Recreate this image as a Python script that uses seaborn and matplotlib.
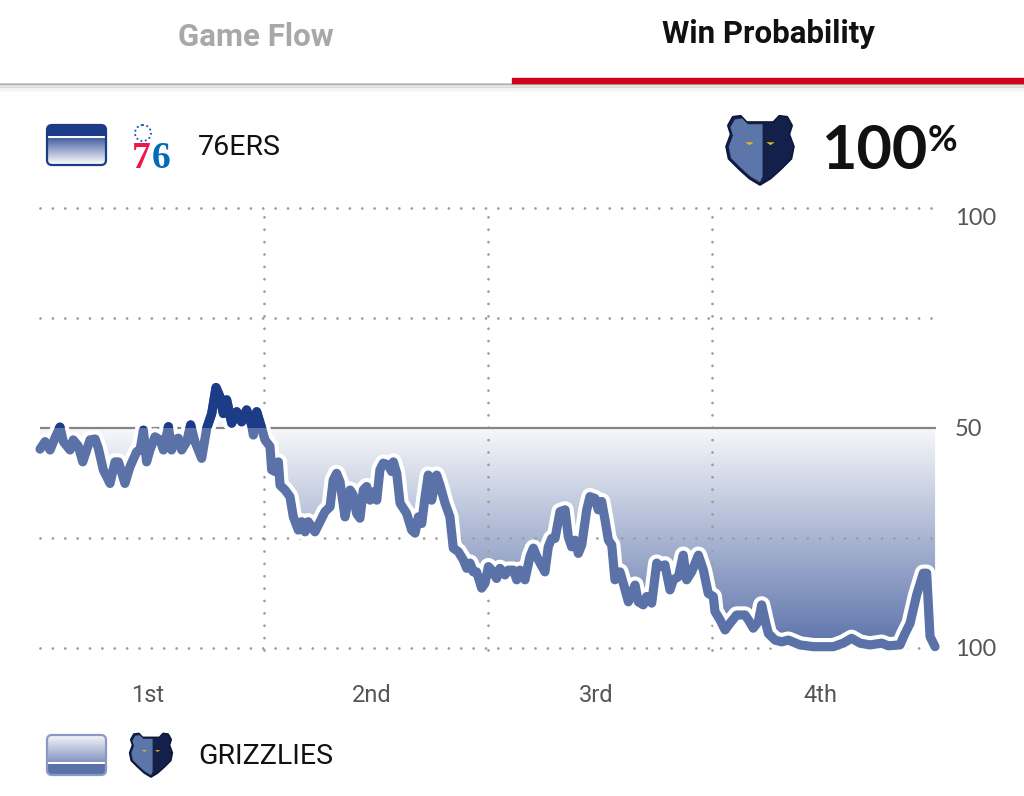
import numpy as np
import pandas as pd
import matplotlib
matplotlib.use("Agg")
import matplotlib.pyplot as plt
import matplotlib.transforms as mtransforms
import seaborn as sns
from matplotlib.patches import Rectangle, FancyBboxPatch, Polygon, Circle
from matplotlib.colors import LinearSegmentedColormap, to_rgb

# game clock (minutes elapsed) and 76ers win probability (%)
minutes = [0, 0.27, 0.54, 0.8, 1.07, 1.25, 1.61, 1.78, 2.05, 2.29, 2.5, 2.68, 2.95, 3.12,
           3.39, 3.75, 4.02, 4.2, 4.55, 4.82, 5.18, 5.36, 5.54, 5.71, 5.89, 6.16, 6.43,
           6.61, 6.88, 7.05, 7.23, 7.41, 7.59, 7.86, 8.07, 8.3, 8.66, 8.93, 9.2, 9.43,
           9.64, 9.82, 10.0, 10.27, 10.54, 10.8, 11.07, 11.34, 11.43, 11.61, 11.88,
           12.05, 12.32, 12.41, 12.59, 12.77, 12.86, 13.13, 13.39, 13.57, 13.84, 14.02,
           14.2, 14.37, 14.55, 14.73, 15.0, 15.27, 15.54, 15.71, 15.89, 16.07, 16.34,
           16.61, 16.78, 16.96, 17.14, 17.32, 17.5, 17.68, 17.86, 18.04, 18.21, 18.39,
           18.66, 18.84, 18.93, 19.11, 19.29, 19.64, 19.91, 20.09, 20.27, 20.45, 20.63,
           20.8, 20.98, 21.25, 21.43, 21.7, 21.96, 22.14, 22.41, 22.68, 22.86, 23.04,
           23.21, 23.39, 23.66, 23.84, 24.02,
           24.2, 24.46, 24.64, 24.91, 25.09, 25.36, 25.54, 25.71, 25.98, 26.25, 26.43,
           26.61, 26.79, 27.05, 27.23, 27.41, 27.59, 27.86, 28.13, 28.3, 28.48, 28.66,
           28.84, 29.02, 29.29, 29.46, 29.73, 29.91, 30.09, 30.27, 30.45, 30.63, 30.8,
           31.07, 31.25, 31.52, 31.7, 31.88, 32.05, 32.32, 32.5, 32.77, 33.04, 33.21,
           33.48, 33.75, 33.93, 34.2, 34.46, 34.64, 34.91, 35.27, 35.54, 35.8, 36.07,
           36.16, 36.43, 36.7, 36.96, 37.32, 37.77, 37.95, 38.21, 38.48, 38.66, 38.84,
           39.02, 39.38, 39.73, 40.09, 40.71, 41.43, 42.5, 43.03, 43.48, 43.93, 44.46,
           45.09, 45.45, 46.07, 46.34, 46.61, 46.96, 47.32, 47.5, 47.68, 47.95]
prob_76ers = [45.2, 46.9, 45.0, 47.7, 50.2, 46.9, 45.0, 47.3, 45.9, 42.3, 45.0, 47.3, 47.5, 45.5,
              40.5, 37.4, 42.3, 42.3, 37.4, 41.2, 44.6, 45.0, 49.5, 42.3, 45.0, 48.0, 47.3,
              45.0, 50.3, 45.0, 47.3, 47.7, 45.0, 46.9, 50.7, 46.9, 43.1, 49.9, 53.3, 59.2,
              57.1, 53.3, 56.4, 51.1, 53.7, 51.4, 54.1, 50.7, 48.4, 53.7, 49.9,
              47.3, 45.8, 40.5, 40.1, 42.3, 37.0, 35.9, 34.4, 29.8, 26.8, 28.7,
              26.4, 28.7, 27.6, 26.4, 28.7, 31.0, 32.1, 38.2, 39.7, 37.8, 29.8,
              35.9, 34.8, 30.6, 29.5, 35.9, 36.7, 33.6, 35.5, 33.6, 40.5, 42.0,
              41.6, 40.1, 42.3, 39.7, 32.9, 30.6, 26.8, 26.1, 29.8, 28.3, 34.4,
              39.3, 33.6, 39.3, 37.0, 32.9, 29.8, 22.7, 21.9, 20.0, 18.1, 19.3,
              17.3, 17.3, 13.6, 14.7, 18.5,
              17.7, 15.8, 18.1, 16.6, 17.7, 17.7, 15.5, 17.7, 15.5, 20.8, 22.7,
              20.8, 19.3, 17.3, 23.0, 24.9, 24.9, 31.0, 31.4, 25.3, 23.0, 24.5,
              21.5, 23.4, 31.4, 34.4, 34.0, 31.4, 33.3, 29.1, 24.5, 23.4, 15.5,
              17.3, 14.7, 10.5, 12.4, 14.3, 10.5, 9.8, 11.7, 10.2, 19.3, 18.5,
              18.9, 13.2, 15.5, 16.2, 21.1, 15.5, 17.3, 21.1, 17.7, 12.4, 11.7,
              8.3, 6.4, 4.1, 5.6, 7.5, 7.5, 6.4, 4.5, 6.0, 9.8, 6.4,
              3.3, 1.8, 1.4, 1.8, 0.7, 0.3, 0.3, 1.1, 2.2, 1.1, 0.7,
              1.1, 0.5, 0.7, 3.3, 5.6, 12.0, 17.0, 17.0, 2.6, 0.3]

quarter_labels = ['1st', '2nd', '3rd', '4th']
quarter_centers = [6, 18, 30, 42]
quarter_ends = [12, 24, 36]
right_ticks = [0, 50, 100]
right_tick_labels = ['100', '50', '100']
grid_levels = [0, 25, 75, 100]

tab_left = 'Game Flow'
tab_right = 'Win Probability'
team_top = '76ERS'
team_bottom = 'GRIZZLIES'
leader_pct = '100'

steel = '#5a72a8'
navy = '#1d3c88'

sns.set_theme(style='white')
plt.rcParams['lines.scale_dashes'] = False
plt.rcParams['font.family'] = ['Roboto', 'DejaVu Sans']

fig = plt.figure(figsize=(10.24, 7.96), dpi=100)
fig.patch.set_facecolor('white')

# decoration layer in pixel coordinates
deco = fig.add_axes([0, 0, 1, 1])
deco.set_xlim(0, 1024)
deco.set_ylim(796, 0)
deco.axis('off')

# tab bar
deco.text(256, 46, tab_left, ha='center', va='baseline', fontsize=22.5,
          fontweight='bold', color='#a8a8a8')
deco.text(768, 43, tab_right, ha='center', va='baseline', fontsize=22.5,
          fontweight='bold', color='#111111')
for i, a in enumerate([0.22, 0.15, 0.1, 0.06, 0.035, 0.015]):
    deco.plot([0, 1024], [83.5 + i * 1.5] * 2, color='black', alpha=a, lw=1.3)
deco.add_patch(Rectangle((512, 78), 512, 5, color='#d0021b', zorder=3))


def gradient_box(x, y, w, h, rows, edge):
    box = FancyBboxPatch((x, y), w, h, boxstyle='round,pad=0,rounding_size=5',
                         facecolor='none', edgecolor=edge, lw=1.6, zorder=4)
    deco.add_patch(box)
    img = np.array([to_rgb(c) if isinstance(c, str) else c for c in rows])[:, None, :]
    img = np.repeat(img, 2, axis=1)
    im = deco.imshow(img, extent=[x, x + w, y + h, y], aspect='auto', zorder=3,
                     interpolation='bilinear')
    im.set_clip_path(box)


def blend(c1, c2, t):
    a, b = np.array(to_rgb(c1)), np.array(to_rgb(c2))
    return tuple(a + (b - a) * t)


# 76ers legend swatch: solid band on top, gradient below
rows_top = [navy] * 11 + ['white'] * 2 + [blend('#4a64a2', '#ffffff', t) for t in np.linspace(0, 1, 27)]
gradient_box(47, 125, 59, 40, rows_top, navy)
# Grizzlies legend swatch: gradient on top, solid band below
rows_bot = [blend('#f4f5f9', '#8797c2', t) for t in np.linspace(0, 1, 27)] + ['white'] * 2 + [steel] * 11
gradient_box(47, 735, 59, 40, rows_bot, '#8a99c4')

# 76ers mark
deco.add_patch(Circle((143, 133), 8, fill=False, edgecolor='#1d5fb6', lw=1.6, linestyle=(0, (0.01, 3.2)),
                      capstyle='round'))
deco.text(141, 168, '7', ha='center', va='baseline', fontsize=27, fontweight='bold',
          family='Liberation Serif', color='#ed174c')
deco.text(161, 168, '6', ha='center', va='baseline', fontsize=27, fontweight='bold',
          family='Liberation Serif', color='#006bb6')

bear = np.array([(-0.78, -0.95), (-0.55, -0.98), (-0.38, -0.8), (0.38, -0.8), (0.55, -0.98),
                 (0.78, -0.95), (0.92, -0.7), (0.84, -0.45), (0.97, -0.1), (0.9, 0.25),
                 (0.6, 0.55), (0.3, 0.82), (0.0, 1.0), (-0.3, 0.82), (-0.6, 0.55),
                 (-0.9, 0.25), (-0.97, -0.1), (-0.84, -0.45), (-0.92, -0.7)])


def draw_bear(cx, cy, s):
    deco.add_patch(Polygon(bear * s + [cx, cy], closed=True, facecolor='#13204a',
                           edgecolor='#0d1838', lw=1.2, joinstyle='round', zorder=4))
    half = bear.copy()
    half[:, 0] = np.minimum(half[:, 0], 0.08)
    half = half * 0.92
    deco.add_patch(Polygon(half * s + [cx, cy], closed=True, facecolor='#5d76aa',
                           edgecolor='none', zorder=5))
    for ex in (-0.3, 0.3):
        deco.add_patch(Polygon(np.array([(ex - 0.12, -0.22), (ex + 0.12, -0.22), (ex, -0.14)]) * s + [cx, cy],
                               facecolor='#f2b51c', edgecolor='none', zorder=6))


draw_bear(760, 150, 35)
draw_bear(151, 755, 22)

deco.text(198, 155, team_top, ha='left', va='baseline', fontsize=20.5, color='#111111')
deco.text(198, 764, team_bottom, ha='left', va='baseline', fontsize=20.5, color='#111111')
deco.text(821, 169, leader_pct, ha='left', va='baseline', fontsize=44, fontweight='bold',
          family=['Lato', 'DejaVu Sans'], color='#111111')
deco.text(928, 151, '%', ha='left', va='baseline', fontsize=26, fontweight='bold',
          family=['Lato', 'DejaVu Sans'], color='#111111')

# chart
ax = fig.add_axes([40 / 1024, 148 / 796, 896 / 1024, 440 / 796])
ax.patch.set_alpha(0)
ax.set_xlim(0, 48)
ax.set_ylim(0, 100)

cmap = LinearSegmentedColormap.from_list('wp', [(0, '#5d73aa'), (0.5, '#f7f8fb'), (1.0, navy)])
grad = np.repeat(np.linspace(0, 100, 400)[:, None], 2, axis=1)
im = ax.imshow(grad, extent=[0, 48, 0, 100], origin='lower', aspect='auto', cmap=cmap,
               vmin=0, vmax=100, zorder=1)
fill = ax.fill_between(minutes, prob_76ers, 50, facecolor='none', edgecolor='none')
im.set_clip_path(fill.get_paths()[0], transform=ax.transData)

dot = (0, (0.01, 8.9))
for lv in grid_levels:
    ax.plot([0, 48], [lv, lv], color='#9c9c9c', lw=2, linestyle=dot, dash_capstyle='round',
            zorder=2, clip_on=False)
for q in quarter_ends:
    ax.plot([q, q], [-0.5, 100.5], color='#9c9c9c', lw=2, linestyle=dot, dash_capstyle='round',
            zorder=2, clip_on=False)
ax.plot([0, 48], [50, 50], color='#858585', lw=1.6, zorder=2)

df = pd.DataFrame({'minute': minutes, 'prob': prob_76ers})
for col, lw in [('white', 12.5), (steel, 6.6), (navy, 6.6)]:
    sns.lineplot(data=df, x='minute', y='prob', ax=ax, color=col, lw=lw,
                 estimator=None, sort=False, zorder=3)
    ln = ax.lines[-1]
    ln.set_solid_joinstyle('round')
    ln.set_solid_capstyle('round')
    ln.set_clip_on(False)
# 76ers colour only where the line is above the even mark
ln.set_clip_on(True)
ln.set_clip_path(Rectangle((-5, 50), 58, 60, transform=ax.transData))

ax.yaxis.tick_right()
ax.set_yticks(right_ticks, right_tick_labels)
ax.set_xticks(quarter_centers, quarter_labels)
ax.tick_params(axis='y', length=0, pad=13.5, labelsize=17, labelcolor='#555555')
ax.tick_params(axis='x', length=0, pad=26, labelsize=17, labelcolor='#555555')
for lab in ax.get_yticklabels():
    lab.set_family(['Lato', 'DejaVu Sans'])
ax.get_yticklabels()[2].set_va('top')
shift = mtransforms.ScaledTranslation(-4 / 100, 0, fig.dpi_scale_trans)
for lab in ax.get_xticklabels():
    lab.set_transform(lab.get_transform() + shift)
ax.set_xlabel('')
ax.set_ylabel('')
ax.grid(False)
for sp in ax.spines.values():
    sp.set_visible(False)

fig.savefig('out.png', dpi=100, facecolor='white')
